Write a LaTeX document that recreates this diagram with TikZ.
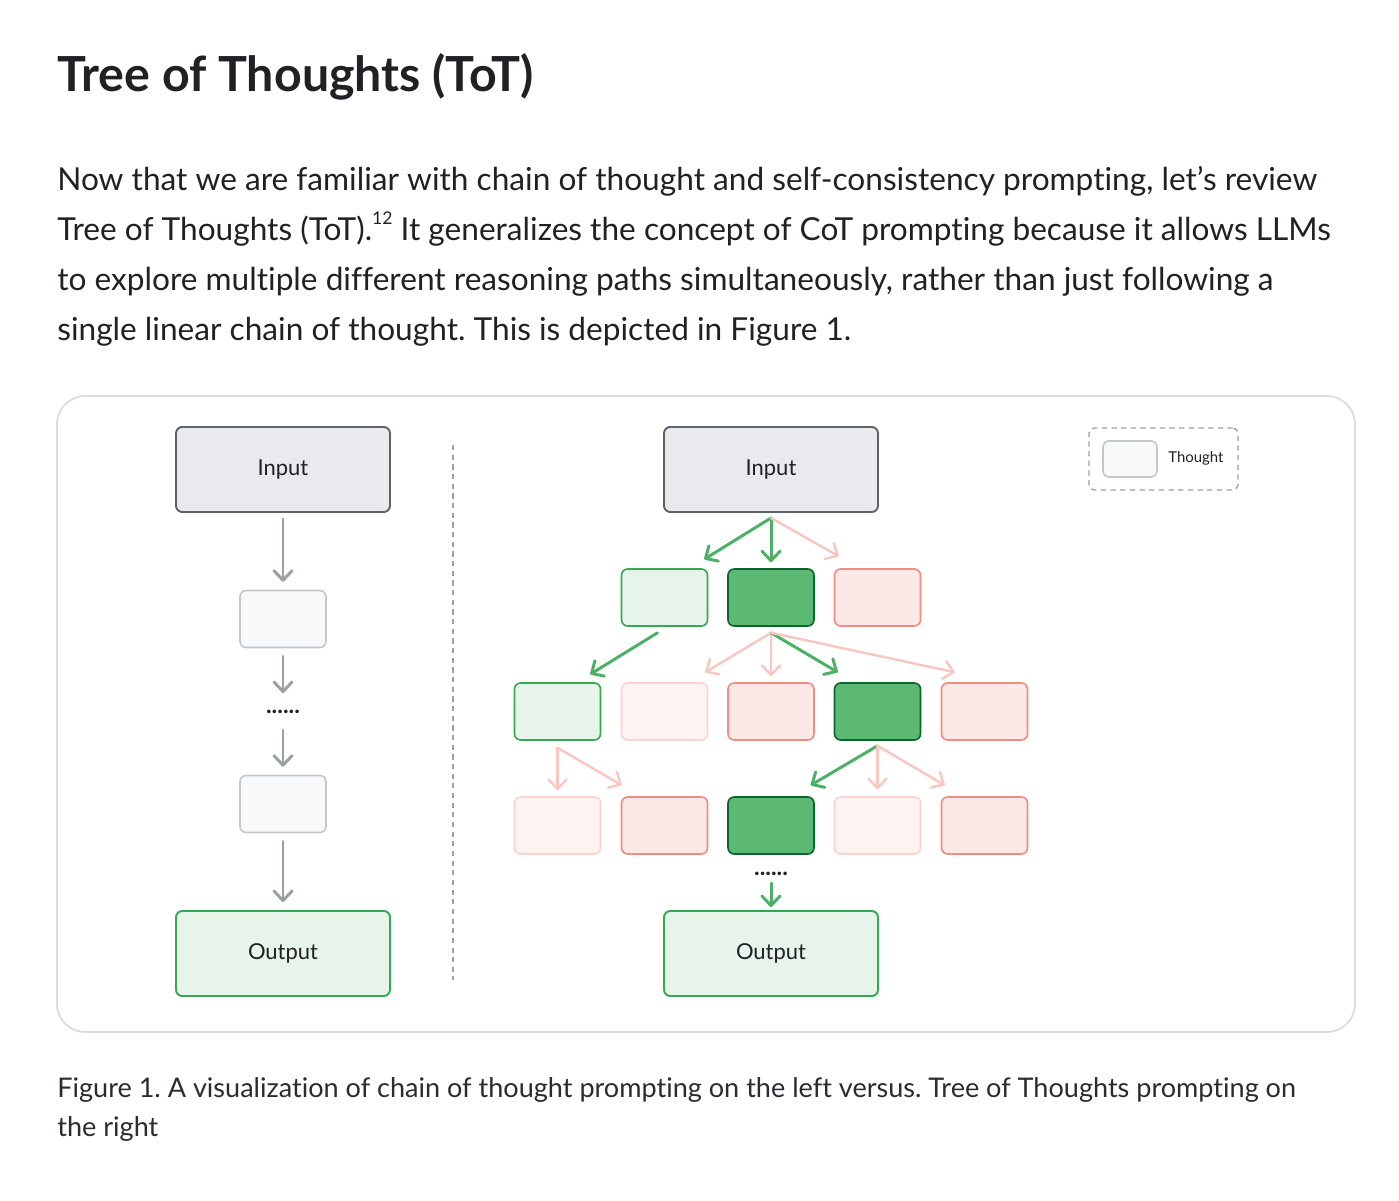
\documentclass[tikz,border=0pt]{standalone}
\usepackage{fontspec}
\setmainfont{Lato}[Ligatures=NoCommon]
\usetikzlibrary{arrows.meta, positioning, calc}
\frenchspacing
\definecolor{InkBlack}{HTML}{202124}
\definecolor{CapGray}{HTML}{2A2C30}
\definecolor{FrameGray}{HTML}{DADCE0}
\definecolor{ArrowGray}{HTML}{9AA0A6}
\definecolor{InGray}{HTML}{E8EAED}
\definecolor{InEdge}{HTML}{5F6368}
\definecolor{ThFill}{HTML}{F8F9FA}
\definecolor{ThEdge}{HTML}{C4C7C5}
\definecolor{LeafGreen}{HTML}{E6F4EA}
\definecolor{EdgeGreen}{HTML}{34A853}
\definecolor{DeepGreen}{HTML}{5BB974}
\definecolor{DeepEdge}{HTML}{0D652D}
\definecolor{ArrowGreen}{HTML}{4DB066}
\definecolor{RoseFill}{HTML}{FCE8E6}
\definecolor{RoseEdge}{HTML}{F28B82}
\definecolor{BlushFill}{HTML}{FEF3F2}
\definecolor{BlushEdge}{HTML}{FAD2CF}
\definecolor{ArrowPink}{HTML}{F9C7C2}
\tikzset{
  iobox/.style={draw=InEdge, line width=1.1pt, fill=InGray, rounded corners=3.5pt,
                minimum width=4.28cm, minimum height=1.70cm, inner sep=0pt,
                font=\fontsize{12.5}{14}\selectfont, text=InkBlack},
  outbox/.style={iobox, draw=EdgeGreen, fill=LeafGreen},
  thbox/.style={draw=ThEdge, line width=0.9pt, fill=ThFill, rounded corners=3.5pt,
                minimum width=1.72cm, minimum height=1.14cm, inner sep=0pt},
  goodbox/.style={thbox, draw=EdgeGreen, fill=LeafGreen},
  bestbox/.style={thbox, draw=DeepEdge, fill=DeepGreen},
  badbox/.style={thbox, draw=RoseEdge, fill=RoseFill},
  faintbox/.style={thbox, draw=BlushEdge, fill=BlushFill},
  grayarrow/.style={-{Straight Barb[length=1.9mm, width=3.6mm, round]},
                    line width=1.7pt, draw=ArrowGray, line cap=round},
  greenarrow/.style={grayarrow, draw=ArrowGreen},
  pinkarrow/.style={grayarrow, draw=ArrowPink, line width=1.4pt},
  dots/.style={font=\fontsize{13.5}{14}\selectfont\bfseries, text=InkBlack, inner sep=0pt},
  bodyline/.style={anchor=base west, font=\fontsize{18}{20}\selectfont,
                   text=InkBlack, inner sep=0pt},
  capline/.style={bodyline, font=\fontsize{15.4}{17}\selectfont, text=CapGray},
}
\begin{document}
\begin{tikzpicture}[x=0.02cm, y=-0.02cm]
  \useasboundingbox[fill=white] (0,0) rectangle (1399,1200);

  % heading and text above the figure
  \node[anchor=base west, inner sep=0pt, text=InkBlack,
        font=\fontsize{27.5}{30}\selectfont\bfseries] (title) at (57,91)
    {Tree of Thoughts (ToT)};
  \node[bodyline] (par1) at (57,190)
    {Now that we are familiar with chain of thought and self-consistency prompting, let’s review};
  \node[bodyline] (par2) at (57,240)
    {Tree of Thoughts (ToT).\raisebox{0.5em}{\fontsize{10}{10}\selectfont 12} It generalizes the concept of CoT prompting because it allows LLMs};
  \node[bodyline] (par3) at (57,290)
    {to explore multiple different reasoning paths simultaneously, rather than just following a};
  \node[bodyline] (par4) at (57,340)
    {single linear chain of thought. This is depicted in Figure 1.};

  % figure frame and divider
  \draw[FrameGray, line width=1pt, rounded corners=16pt] (57,396) rectangle (1355,1032);
  \draw[ArrowGray, line width=0.8pt, dash pattern=on 3pt off 2.5pt] (453,445) -- (453,980);

  % chain of thought (left)
  \node[iobox] (cin) at (283,469.5) {Input};
  \node[thbox] (ct1) at (283,619) {};
  \node[dots] (cdots) at (283,712) {......};
  \node[thbox] (ct2) at (283,804) {};
  \node[outbox] (cout) at (283,953.5) {Output};

  \draw[grayarrow] ($(cin.south)+(0,6)$) -- ($(ct1.north)+(0,-8)$);
  \draw[grayarrow] ($(ct1.south)+(0,8)$) -- ($(cdots.center)+(0,-19)$);
  \draw[grayarrow] ($(cdots.center)+(0,18)$) -- ($(ct2.north)+(0,-8)$);
  \draw[grayarrow] ($(ct2.south)+(0,8)$) -- ($(cout.north)+(0,-8)$);

  % tree of thoughts (right)
  \node[iobox] (tin) at (771,469.5) {Input};

  \node[goodbox]  (a1) at (664.5,597.5) {};
  \node[bestbox]  (a2) at (771,597.5) {};
  \node[badbox]   (a3) at (877.5,597.5) {};

  \node[goodbox]  (b1) at (557.5,711.5) {};
  \node[faintbox] (b2) at (664.5,711.5) {};
  \node[badbox]   (b3) at (771,711.5) {};
  \node[bestbox]  (b4) at (877.5,711.5) {};
  \node[badbox]   (b5) at (984.5,711.5) {};

  \node[faintbox] (c1) at (557.5,825.5) {};
  \node[badbox]   (c2) at (664.5,825.5) {};
  \node[bestbox]  (c3) at (771,825.5) {};
  \node[faintbox] (c4) at (877.5,825.5) {};
  \node[badbox]   (c5) at (984.5,825.5) {};

  \node[dots] (tdots) at (771,874) {......};
  \node[outbox] (tout) at (771,953.5) {Output};

  \draw[greenarrow] ($(tin.south)+(0,5)$) -- ($(a1.north east)+(-4,-9)$);
  \draw[greenarrow] ($(tin.south)+(0,5)$) -- ($(a2.north)+(0,-6)$);
  \draw[pinkarrow]  ($(tin.south)+(0,5)$) -- ($(a3.north west)+(5,-12)$);

  \draw[greenarrow] ($(a1.south)+(-7,6)$) -- ($(b1.north east)+(-11,-8)$);
  \draw[pinkarrow]  ($(a2.south)+(0,6)$) -- ($(b2.north east)+(-3,-10)$);
  \draw[pinkarrow]  ($(a2.south)+(0,6)$) -- ($(b3.north)+(0,-6)$);
  \draw[greenarrow] ($(a2.south)+(0,6)$) -- ($(b4.north west)+(4,-10)$);
  \draw[pinkarrow]  ($(a2.south)+(0,6)$) -- ($(b5.north west)+(14,-10)$);

  \draw[pinkarrow]  ($(b1.south)+(0,7)$) -- ($(c1.north)+(0,-6)$);
  \draw[pinkarrow]  ($(b1.south)+(0,7)$) -- ($(c2.north west)+(1,-11)$);
  \draw[greenarrow] ($(b4.south)+(0,5)$) -- ($(c3.north east)+(-4,-11)$);
  \draw[pinkarrow]  ($(b4.south)+(0,5)$) -- ($(c4.north)+(0,-7)$);
  \draw[pinkarrow]  ($(b4.south)+(0,5)$) -- ($(c5.north west)+(4,-11)$);

  \draw[greenarrow] ($(tdots.center)+(0,9)$) -- ($(tout.north)+(0,-3)$);

  % legend
  \node[draw=ArrowGray, line width=0.8pt, dash pattern=on 3pt off 2.5pt,
        rounded corners=3pt, minimum width=2.98cm, minimum height=1.24cm] (legend)
        at (1163.5,459) {};
  \node[thbox, minimum width=1.08cm, minimum height=0.72cm] (legth) at (1130,459) {};
  \node[anchor=west, inner sep=0pt, text=InkBlack, font=\fontsize{8.5}{10}\selectfont]
        (leglab) at (1168,458) {Thought};

  % caption
  \node[capline] (cap1) at (57,1097)
    {Figure 1. A visualization of chain of thought prompting on the left versus. Tree of Thoughts prompting on};
  \node[capline] (cap2) at (57,1136) {the right};
\end{tikzpicture}
\end{document}
